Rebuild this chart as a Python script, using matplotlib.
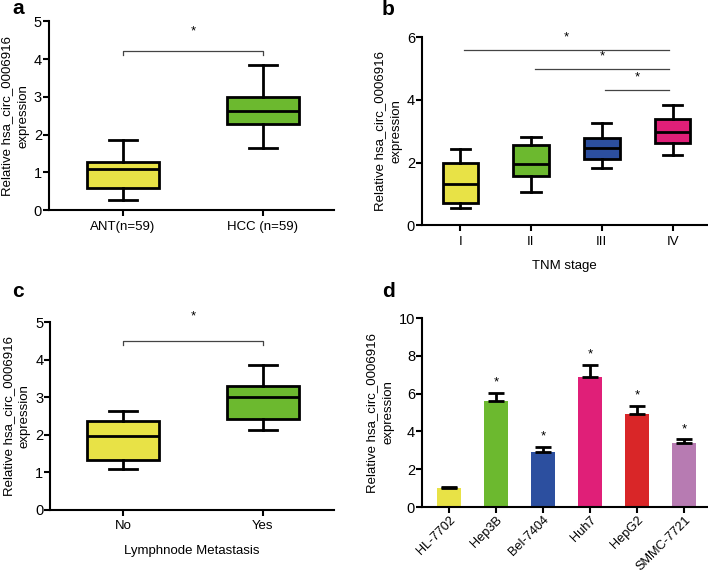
import matplotlib
matplotlib.use("Agg")
import matplotlib.pyplot as plt

plt.rcParams['font.family'] = ['Liberation Sans', 'DejaVu Sans']

# ---------------- data ----------------
a_labels = ["ANT(n=59)", "HCC (n=59)"]
a_whislo = [0.27, 1.65]
a_q1 = [0.60, 2.28]
a_med = [1.10, 2.63]
a_q3 = [1.27, 3.00]
a_whishi = [1.85, 3.85]
a_colors = ["#e8e246", "#6cb92f"]

b_labels = ["I", "II", "III", "IV"]
b_whislo = [0.55, 1.05, 1.82, 2.25]
b_q1 = [0.70, 1.58, 2.10, 2.62]
b_med = [1.30, 1.95, 2.45, 2.98]
b_q3 = [2.00, 2.55, 2.78, 3.38]
b_whishi = [2.42, 2.82, 3.25, 3.85]
b_colors = ["#e8e246", "#6cb92f", "#2c4f9f", "#e01f78"]
b_sig_pairs = [(0, 3), (1, 3), (2, 3)]
b_sig_heights = [5.6, 5.0, 4.33]

c_labels = ["No", "Yes"]
c_whislo = [1.08, 2.13]
c_q1 = [1.33, 2.43]
c_med = [1.97, 3.00]
c_q3 = [2.37, 3.30]
c_whishi = [2.63, 3.85]
c_colors = ["#e8e246", "#6cb92f"]

d_labels = ["HL-7702", "Hep3B", "Bel-7404", "Huh7", "HepG2", "SMMC-7721"]
d_values = [1.00, 5.60, 2.90, 6.90, 4.90, 3.38]
d_errors = [0.04, 0.45, 0.30, 0.60, 0.45, 0.20]
d_colors = ["#e8e246", "#6cb92f", "#2c4f9f", "#e01f78", "#d92628", "#b77bb2"]

YLABEL = "Relative hsa_circ_0006916\nexpression"
FS = 9.5

fig = plt.figure(figsize=(7.08, 5.73), dpi=100)

def style_axis(ax):
    for s in ["top", "right"]:
        ax.spines[s].set_visible(False)
    for s in ["left", "bottom"]:
        ax.spines[s].set_linewidth(1.5)
    ax.tick_params(width=1.5, length=4, labelsize=FS, direction="out")
    ax.tick_params(axis="y", labelsize=10.5, pad=1)
    ax.set_ylabel(YLABEL, fontsize=FS, linespacing=1.45, labelpad=3)

def boxes(ax, labels, lo, q1, med, q3, hi, colors, width, capw):
    stats = []
    for i in range(len(labels)):
        stats.append(dict(whislo=lo[i], q1=q1[i], med=med[i], q3=q3[i],
                          whishi=hi[i], label=labels[i]))
    bp = ax.bxp(stats, positions=range(len(labels)), widths=width,
                showfliers=False, patch_artist=True, capwidths=capw,
                boxprops=dict(linewidth=2, edgecolor="black"),
                medianprops=dict(linewidth=2, color="black"),
                whiskerprops=dict(linewidth=2, color="black"),
                capprops=dict(linewidth=2, color="black"))
    for patch, c in zip(bp["boxes"], colors):
        patch.set_facecolor(c)
    return bp

def bracket(ax, x0, x1, y, drop, star_y):
    ax.plot([x0, x0, x1, x1], [y - drop, y, y, y - drop], color="#444444", lw=0.9)
    ax.text((x0 + x1) / 2, star_y, "*", ha="center", va="center", fontsize=FS)

# ---- panel a ----
axa = fig.add_axes([0.069, 0.633, 0.403, 0.330])
boxes(axa, a_labels, a_whislo, a_q1, a_med, a_q3, a_whishi, a_colors, 0.51, 0.2)
style_axis(axa)
axa.set_ylim(0, 5)
axa.set_yticks([0, 1, 2, 3, 4, 5])
axa.set_xlim(-0.53, 1.51)
bracket(axa, 0, 1, 4.2, 0.1, 4.72)

# ---- panel b ----
axb = fig.add_axes([0.596, 0.607, 0.403, 0.328])
boxes(axb, b_labels, b_whislo, b_q1, b_med, b_q3, b_whishi, b_colors, 0.5, 0.27)
style_axis(axb)
axb.set_ylim(0, 6)
axb.set_yticks([0, 2, 4, 6])
axb.set_xlim(-0.54, 3.49)
axb.set_xlabel("TNM stage", fontsize=FS, labelpad=9)
for (i0, i1), h in zip(b_sig_pairs, b_sig_heights):
    axb.plot([i0 + 0.05, i1 - 0.05], [h, h], color="#444444", lw=0.9)
    axb.text((i0 + i1) / 2, h + 0.38, "*", ha="center", va="center", fontsize=FS)

# ---- panel c ----
axc = fig.add_axes([0.071, 0.110, 0.401, 0.328])
boxes(axc, c_labels, c_whislo, c_q1, c_med, c_q3, c_whishi, c_colors, 0.51, 0.2)
style_axis(axc)
axc.set_ylim(0, 5)
axc.set_yticks([0, 1, 2, 3, 4, 5])
axc.set_xlim(-0.52, 1.51)
axc.set_xlabel("Lymphnode Metastasis", fontsize=FS, labelpad=9)
bracket(axc, 0, 1, 4.5, 0.1, 5.15)

# ---- panel d ----
axd = fig.add_axes([0.596, 0.115, 0.403, 0.330])
x = list(range(len(d_labels)))
axd.bar(x, d_values, width=0.51, color=d_colors, edgecolor="none")
axd.errorbar(x, d_values, yerr=[[0] * len(d_errors), d_errors], fmt="none",
             ecolor="black", elinewidth=2, capsize=6, capthick=2)
for xi, v, e in zip(x[1:], d_values[1:], d_errors[1:]):
    axd.text(xi, v + e + 0.55, "*", ha="center", va="center", fontsize=FS)
style_axis(axd)
axd.set_ylim(0, 10)
axd.set_yticks([0, 2, 4, 6, 8, 10])
axd.set_xlim(-0.57, 5.49)
axd.set_xticks(x)
axd.tick_params(axis="x", pad=1)
axd.set_xticklabels(d_labels, rotation=45, ha="right", rotation_mode="anchor",
                    fontsize=9.2)

# panel letters
for lab, (px, py) in zip("abcd", [(12, 14), (382, 15), (12, 297), (382, 297)]):
    fig.text(px / 708, 1 - py / 573, lab, fontsize=15, fontweight="bold",
             ha="left", va="baseline")

fig.savefig("out.png", dpi=100)
